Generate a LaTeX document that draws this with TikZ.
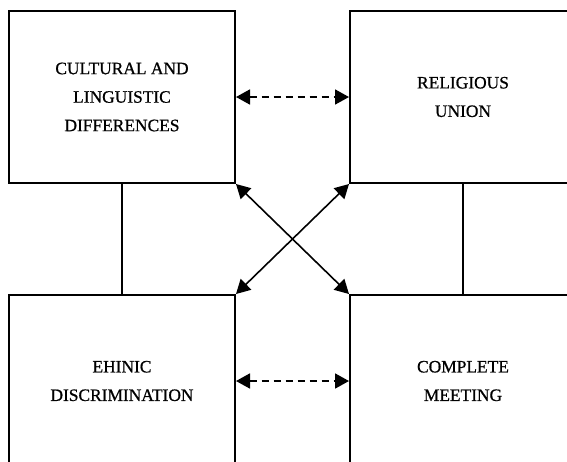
\documentclass[tikz,border=0pt]{standalone}
\usepackage{fontspec}
\setmainfont{Liberation Serif}
\newfontfamily\labelfont[FakeBold=0.8]{Liberation Serif}
\usetikzlibrary{arrows.meta}
\begin{document}
\begin{tikzpicture}[x=1pt,y=-1pt,
  block/.style={draw,line width=2pt,minimum width=226pt,minimum height=172pt,
    anchor=north west,inner sep=0pt,align=center,font=\labelfont\fontsize{17.4}{28.5}\selectfont},
  link/.style={line width=1.5pt},
  both/.style={line width=1.6pt,{Triangle[length=14pt,width=15pt]}-{Triangle[length=14pt,width=15pt]}},
  dashlink/.style={both,line width=1.8pt,dash pattern=on 7pt off 5pt}]
\useasboundingbox (0,0) rectangle (567,461);
\clip (0,0) rectangle (567,461);
\node[block] (tl) at (8,10) {\raisebox{1.5pt}{\parbox{200pt}{\centering CULTURAL AND\\LINGUISTIC\\DIFFERENCES}}};
\node[block] (tr) at (349,10) {\raisebox{1.5pt}{\parbox{200pt}{\centering RELIGIOUS\\UNION}}};
\node[block] (bl) at (8,294) {\raisebox{1.5pt}{\parbox{200pt}{\centering EHINIC\\DISCRIMINATION}}};
\node[block] (br) at (349,294) {\raisebox{1.5pt}{\parbox{200pt}{\centering COMPLETE\\MEETING}}};
\draw[link] (tl.south) -- (bl.north);
\draw[link] (tr.south) -- (br.north);
\draw[dashlink] (tl.east) -- (tr.west);
\draw[dashlink] (bl.east) -- (br.west);
\draw[both] (tl.south east) -- (br.north west);
\draw[both] (tr.south west) -- (bl.north east);
\end{tikzpicture}
\end{document}
